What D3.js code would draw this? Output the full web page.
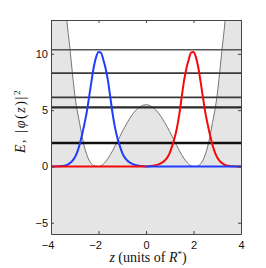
<!DOCTYPE html>
<html>
<head>
<meta charset="utf-8">
<script src="https://cdn.jsdelivr.net/npm/d3@7"></script>
<style>
  body { margin: 0; background: #fff; }
  svg { display: block; }
</style>
</head>
<body>
<script>
// sample positions along z (units of R*)
const zValues = [
  -4.0, -3.9, -3.8, -3.7, -3.6, -3.5, -3.4, -3.3, -3.2, -3.1,
  -3.0, -2.9, -2.8, -2.7, -2.6, -2.5, -2.4, -2.3, -2.2, -2.1,
  -2.0, -1.9, -1.8, -1.7, -1.6, -1.5, -1.4, -1.3, -1.2, -1.1,
  -1.0, -0.9, -0.8, -0.7, -0.6, -0.5, -0.4, -0.3, -0.2, -0.1,
  0.0,
  0.1, 0.2, 0.3, 0.4, 0.5, 0.6, 0.7, 0.8, 0.9, 1.0,
  1.1, 1.2, 1.3, 1.4, 1.5, 1.6, 1.7, 1.8, 1.9, 2.0,
  2.1, 2.2, 2.3, 2.4, 2.5, 2.6, 2.7, 2.8, 2.9, 3.0,
  3.1, 3.2, 3.3, 3.4, 3.5, 3.6, 3.7, 3.8, 3.9, 4.0
];

// double well potential V(z)
const potential = [
  32, 28.5, 25, 22, 19.5, 17, 14.6, 12.3, 10.4, 8.3,
  6.4, 5.0, 3.9, 2.75, 1.8, 1.08, 0.56, 0.24, 0.07, 0.01,
  0, 0.05, 0.2, 0.42, 0.71, 1.05, 1.42, 1.83, 2.24, 2.66,
  3.08, 3.48, 3.86, 4.21, 4.53, 4.81, 5.04, 5.23, 5.36, 5.45,
  5.47,
  5.45, 5.36, 5.23, 5.04, 4.81, 4.53, 4.21, 3.86, 3.48, 3.08,
  2.66, 2.24, 1.83, 1.42, 1.05, 0.71, 0.42, 0.2, 0.05, 0,
  0.01, 0.07, 0.24, 0.56, 1.08, 1.8, 2.75, 3.9, 5.0, 6.4,
  8.3, 10.4, 12.3, 14.6, 17, 19.5, 22, 25, 28.5, 32
];

// |phi(z)|^2 localised in the left well (blue)
const leftDensity = [
  0, 0, 0, 0.01, 0.02, 0.04, 0.08, 0.16, 0.3, 0.5,
  0.8, 1.25, 1.9, 2.75, 3.7, 4.75, 6.1, 7.5, 8.8, 9.7,
  10.15, 10.1, 9.5, 8.7, 7.6, 6.1, 4.6, 3.4, 2.5, 1.8,
  1.2, 0.8, 0.55, 0.37, 0.25, 0.16, 0.1, 0.06, 0.03, 0.01,
  0,
  0, 0, 0, 0, 0, 0, 0, 0, 0, 0,
  0, 0, 0, 0, 0, 0, 0, 0, 0, 0,
  0, 0, 0, 0, 0, 0, 0, 0, 0, 0,
  0, 0, 0, 0, 0, 0, 0, 0, 0, 0
];

// |phi(z)|^2 localised in the right well (red)
const rightDensity = [
  0, 0, 0, 0, 0, 0, 0, 0, 0, 0,
  0, 0, 0, 0, 0, 0, 0, 0, 0, 0,
  0, 0, 0, 0, 0, 0, 0, 0, 0, 0,
  0, 0, 0, 0, 0, 0, 0, 0, 0, 0,
  0,
  0.01, 0.03, 0.06, 0.1, 0.16, 0.25, 0.37, 0.55, 0.8, 1.2,
  1.8, 2.5, 3.4, 4.6, 6.1, 7.6, 8.7, 9.5, 10.1, 10.15,
  9.7, 8.8, 7.5, 6.1, 4.75, 3.7, 2.75, 1.9, 1.25, 0.8,
  0.5, 0.3, 0.16, 0.08, 0.04, 0.02, 0.01, 0, 0, 0
];

const energyLevels = [2.08, 5.24, 6.13, 8.29, 10.36, 13];
const xTicks = [-4, -2, 0, 2, 4];
const yTicks = [-5, 0, 5, 10];

const width = 266, height = 268;
const margin = {top: 20, right: 25, bottom: 34, left: 51};

const svg = d3.select('body').append('svg')
  .attr('width', width)
  .attr('height', height);

const x = d3.scaleLinear().domain([-4, 4]).range([margin.left, width - margin.right]);
const y = d3.scaleLinear().domain([-6, 13]).range([height - margin.bottom, margin.top]);

svg.append('clipPath').attr('id', 'plot-clip')
  .append('rect')
  .attr('x', x(-4)).attr('y', y(13))
  .attr('width', x(4) - x(-4)).attr('height', y(-6) - y(13));

const plot = svg.append('g').attr('clip-path', 'url(#plot-clip)');

const pts = zValues.map((z, i) => ({z: z, v: potential[i], l: leftDensity[i], r: rightDensity[i]}));

// shaded region under the potential
plot.append('path')
  .datum(pts)
  .attr('fill', '#e5e5e5')
  .attr('d', d3.area().x(d => x(d.z)).y0(y(-6)).y1(d => y(d.v)).curve(d3.curveMonotoneX));

plot.append('path')
  .datum(pts)
  .attr('fill', 'none')
  .attr('stroke', '#555')
  .attr('stroke-width', 0.8)
  .attr('d', d3.line().x(d => x(d.z)).y(d => y(d.v)).curve(d3.curveMonotoneX));

// energy levels, lower ones drawn heavier
const levelStyle = {
  2.08: ['#111', 2.6],
  5.24: ['#2a2a2a', 2.2],
  6.13: ['#3a3a3a', 1.8],
  8.29: ['#3a3a3a', 1.8],
  10.36: ['#555', 1.4],
  13: ['#444', 2.2]
};
plot.selectAll('.level')
  .data(energyLevels)
  .enter().append('line')
  .attr('class', 'level')
  .attr('x1', x(-4)).attr('x2', x(4))
  .attr('y1', d => y(d)).attr('y2', d => y(d))
  .attr('stroke', d => levelStyle[d][0])
  .attr('stroke-width', d => levelStyle[d][1]);

// densities: peaks first, then the flat tails on top
const densLine = key => d3.line().x(d => x(d.z)).y(d => y(d[key])).curve(d3.curveMonotoneX);
const pieces = [
  {key: 'l', color: '#1f3cff', from: -4, to: 0},
  {key: 'r', color: '#f50a0a', from: 0, to: 4},
  {key: 'r', color: '#f50a0a', from: -4, to: 0},
  {key: 'l', color: '#1f3cff', from: 0, to: 4}
];
pieces.forEach(p => {
  plot.append('path')
    .datum(pts.filter(d => d.z >= p.from - 1e-9 && d.z <= p.to + 1e-9))
    .attr('fill', 'none')
    .attr('stroke', p.color)
    .attr('stroke-width', 2)
    .attr('d', densLine(p.key));
});

// axes, matlab style with inward ticks on all four sides
const fmt = d => d < 0 ? '\u2212' + Math.abs(d) : String(d);

function styleAxis(g) {
  g.select('.domain').attr('stroke', '#444').attr('stroke-width', 1);
  g.selectAll('.tick line').attr('stroke', '#444');
  g.selectAll('.tick text')
    .attr('fill', '#111')
    .style('font-family', '"Liberation Sans", Arial, sans-serif')
    .style('font-size', '11px');
}

svg.append('g')
  .attr('transform', `translate(0, ${y(-6)})`)
  .call(d3.axisBottom(x).tickValues(xTicks).tickFormat(fmt).tickSizeInner(-3).tickSizeOuter(0).tickPadding(7))
  .call(styleAxis)
  .selectAll('.tick text')
  .attr('dx', d => d < 0 ? '-3.5' : 0);

svg.append('g')
  .attr('transform', `translate(0, ${y(13)})`)
  .call(d3.axisTop(x).tickValues(xTicks).tickFormat('').tickSizeInner(-3).tickSizeOuter(0))
  .call(styleAxis);

svg.append('g')
  .attr('transform', `translate(${x(-4)}, 0)`)
  .call(d3.axisLeft(y).tickValues(yTicks).tickFormat(fmt).tickSizeInner(-3).tickSizeOuter(0).tickPadding(3))
  .call(styleAxis);

svg.append('g')
  .attr('transform', `translate(${x(4)}, 0)`)
  .call(d3.axisRight(y).tickValues(yTicks).tickFormat('').tickSizeInner(-3).tickSizeOuter(0))
  .call(styleAxis);

// axis labels
const xlab = svg.append('text')
  .attr('x', 148).attr('y', 262)
  .attr('text-anchor', 'middle')
  .style('font-family', '"Liberation Serif", "DejaVu Serif", serif')
  .style('font-size', '14px')
  .attr('fill', '#111');
xlab.append('tspan').style('font-style', 'italic').text('z');
xlab.append('tspan').text(' (units of ');
xlab.append('tspan').style('font-style', 'italic').text('R');
xlab.append('tspan').attr('dy', -5).style('font-size', '9px').text('*');
xlab.append('tspan').attr('dy', 5).text(')');

const ylab = svg.append('text')
  .attr('transform', 'translate(25, 121) rotate(-90)')
  .attr('text-anchor', 'middle')
  .style('font-family', '"Liberation Serif", "DejaVu Serif", serif')
  .style('font-size', '14px')
  .style('letter-spacing', '1.6px')
  .attr('fill', '#111');
ylab.append('tspan').style('font-style', 'italic').text('E');
ylab.append('tspan').text(', |');
ylab.append('tspan').style('font-style', 'italic').text('\u03c6');
ylab.append('tspan').text('(');
ylab.append('tspan').style('font-style', 'italic').text('z');
ylab.append('tspan').text(')|');
ylab.append('tspan').attr('dy', -5).style('font-size', '9px').text('2');
</script>
</body>
</html>
